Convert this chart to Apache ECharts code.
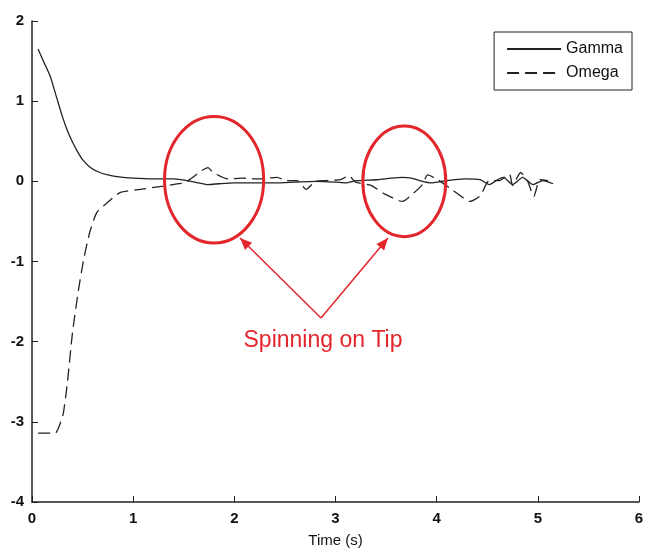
<!DOCTYPE html>
<html>
<head>
<meta charset="utf-8">
<script src="https://cdn.jsdelivr.net/npm/echarts@6/dist/echarts.min.js"></script>
<style>
html, body { margin: 0; padding: 0; background: #fff; }
#chart { width: 646px; height: 551px; }
</style>
</head>
<body>
<div id="chart"></div>
<script>
////////////////////
// data
////////////////////
var gamma_t = [0.06,0.12,0.18,0.24,0.3,0.35,0.4,0.45,0.5,0.58,0.67,0.75,0.84,1.0,1.2,1.4,1.57,1.65,1.74,1.85,2.0,2.2,2.4,2.6,2.8,3.0,3.1,3.21,3.4,3.55,3.66,3.75,3.83,3.95,4.1,4.28,4.43,4.52,4.6,4.66,4.75,4.85,4.95,5.05,5.15];
var gamma_v = [1.65,1.48,1.31,1.06,0.81,0.63,0.49,0.37,0.27,0.17,0.11,0.08,0.06,0.04,0.03,0.03,0.0,-0.02,-0.04,-0.03,-0.02,-0.02,-0.02,-0.01,0.0,-0.01,-0.02,0.01,0.02,0.04,0.05,0.04,0.01,-0.02,0.01,0.03,0.02,-0.04,0.02,0.05,-0.04,0.05,-0.04,0.01,-0.03];

var omega_t = [0.06,0.23,0.27,0.31,0.35,0.40,0.46,0.51,0.57,0.64,0.74,0.87,1.07,1.3,1.45,1.53,1.6,1.66,1.74,1.79,1.94,2.08,2.25,2.42,2.52,2.62,2.71,2.8,2.91,3.05,3.13,3.2,3.35,3.49,3.66,3.76,3.86,3.91,4.0,4.16,4.33,4.43,4.52,4.62,4.72,4.75,4.83,4.9,4.96,5.02,5.1];
var omega_v = [-3.14,-3.14,-3.05,-2.89,-2.51,-1.89,-1.35,-0.98,-0.64,-0.39,-0.27,-0.14,-0.1,-0.06,-0.03,0.0,0.06,0.12,0.17,0.11,0.03,0.04,0.03,0.05,0.01,0.01,-0.1,0.0,0.01,0.02,0.07,-0.01,-0.05,-0.16,-0.25,-0.16,-0.04,0.08,0.03,-0.11,-0.25,-0.18,0.01,0.01,0.09,-0.05,0.11,0.0,-0.19,0.02,0.01];

// annotation ellipses: [centre t, centre value, half width (s), half height]
var circles = [[1.80, 0.02, 0.49, 0.79], [3.68, 0.0, 0.41, 0.69]];
var note_text = 'Spinning on Tip';

function pairs(t, v){
    var out = [];
    for (var i = 0; i < t.length; i++) out.push([t[i], v[i]]);
    return out;
}

var font = 'Arial, "Liberation Sans", sans-serif';
var red = '#e3262b';

var mychart = echarts.init(document.getElementById('chart'));
var chart_option = {
    animation: false,
    grid: { left: 32, right: 7, top: 21, bottom: 49, outerBoundsMode: 'none', containLabel: false },
    legend: {
        orient: 'vertical',
        right: 14, top: 32,
        padding: [9, 9, 9, 12],
        itemGap: 8,
        itemWidth: 54, itemHeight: 12,
        borderColor: '#222', borderWidth: 1,
        itemStyle: { opacity: 0 },
        textStyle: { fontFamily: font, fontSize: 16, color: '#111' },
        data: ['Gamma', 'Omega']
    },
    xAxis: {
        type: 'value', min: 0, max: 6, interval: 1,
        name: 'Time (s)', nameLocation: 'middle', nameGap: 31,
        nameTextStyle: { fontFamily: '"Liberation Sans Narrow", ' + font, fontSize: 15, color: '#111' },
        axisLine: { onZero: false, lineStyle: { color: '#222', width: 1.5 } },
        axisTick: { inside: true, length: 6, lineStyle: { color: '#222' } },
        axisLabel: { fontFamily: font, fontWeight: 'bold', fontSize: 15, color: '#111', margin: 9 },
        splitLine: { show: false }
    },
    yAxis: {
        type: 'value', min: -4, max: 2, interval: 1,
        axisLine: { show: true, onZero: false, lineStyle: { color: '#222', width: 1.5 } },
        axisTick: { show: true, inside: true, length: 6, lineStyle: { color: '#222' } },
        axisLabel: { fontFamily: font, fontWeight: 'bold', fontSize: 15, color: '#111', margin: 8 },
        splitLine: { show: false }
    },
    series: [
        {
            name: 'Gamma', type: 'line', symbol: 'none', smooth: 0.2,
            itemStyle: { color: '#222' },
            lineStyle: { color: '#222', width: 1.3 },
            data: pairs(gamma_t, gamma_v)
        },
        {
            name: 'Omega', type: 'line', symbol: 'none', smooth: 0.2,
            itemStyle: { color: '#222' },
            lineStyle: { color: '#222', width: 1.3, type: [12, 6] },
            data: pairs(omega_t, omega_v)
        }
    ]
};
mychart.setOption(chart_option);

////////////////////
// red annotation
////////////////////
function px(p){ return mychart.convertToPixel({ gridIndex: 0 }, p); }
var elements = [];
circles.forEach(function(c){
    var ctr = px([c[0], c[1]]);
    var edge = px([c[0] + c[2], c[1] + c[3]]);
    elements.push({
        type: 'ellipse',
        shape: { cx: ctr[0], cy: ctr[1], rx: edge[0] - ctr[0], ry: ctr[1] - edge[1] },
        style: { fill: 'none', stroke: red, lineWidth: 3 },
        z: 100
    });
});
var apex = [321, 318];
var tips = [[240, 238], [388, 238]];
tips.forEach(function(tp){
    elements.push({
        type: 'line',
        shape: { x1: apex[0], y1: apex[1], x2: tp[0], y2: tp[1] },
        style: { stroke: red, lineWidth: 1.5 },
        z: 100
    });
    var ang = Math.atan2(tp[1] - apex[1], tp[0] - apex[0]);
    var L = 12, W = 5;
    var bx = tp[0] - L * Math.cos(ang), by = tp[1] - L * Math.sin(ang);
    elements.push({
        type: 'polygon',
        shape: { points: [tp,
            [bx + W * Math.sin(ang), by - W * Math.cos(ang)],
            [bx - W * Math.sin(ang), by + W * Math.cos(ang)]] },
        style: { fill: red },
        z: 100
    });
});
elements.push({
    type: 'text', x: 323, y: 341,
    style: { text: note_text, fill: red, font: '23px ' + font, textAlign: 'center', textVerticalAlign: 'middle' },
    z: 100
});
mychart.setOption({ graphic: { elements: elements } });
</script>
</body>
</html>
